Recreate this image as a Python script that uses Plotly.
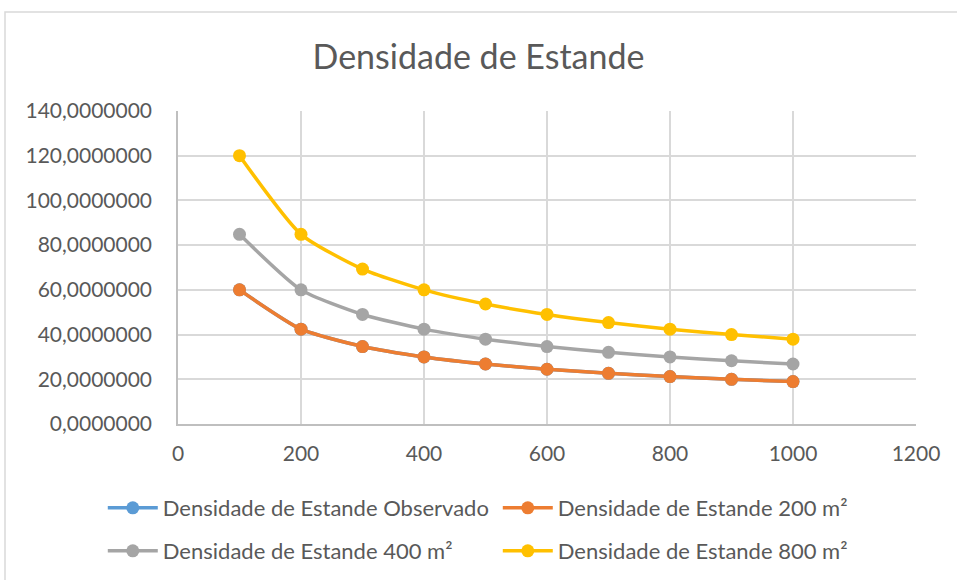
import plotly.graph_objects as go

# Área por planta (x) e densidades de estande para cada parcela
area = [100, 200, 300, 400, 500, 600, 700, 800, 900, 1000]
dens_observado = [60.0, 42.43, 34.64, 30.0, 26.83, 24.49, 22.68, 21.21, 20.0, 18.97]
dens_200 = [60.0, 42.43, 34.64, 30.0, 26.83, 24.49, 22.68, 21.21, 20.0, 18.97]
dens_400 = [84.85, 60.0, 48.99, 42.43, 37.95, 34.64, 32.07, 30.0, 28.28, 26.83]
dens_800 = [120.0, 84.85, 69.28, 60.0, 53.67, 48.99, 45.36, 42.43, 40.0, 37.95]

series = [
    ("Densidade de Estande Observado", dens_observado, "#5B9BD5", "legend"),
    ("Densidade de Estande 200 m²", dens_200, "#ED7D31", "legend"),
    ("Densidade de Estande 400 m²", dens_400, "#A5A5A5", "legend2"),
    ("Densidade de Estande 800 m²", dens_800, "#FFC000", "legend2"),
]

FONT = "Lato"
TXT = "#595959"

# plot area in pixels
PL, PR, PT, PB = 178, 916, 111, 424
PW, PH = PR - PL, PB - PT

fig = go.Figure()
for name, vals, color, leg in series:
    fig.add_trace(go.Scatter(
        x=area, y=vals, name=name, mode="lines+markers", legend=leg,
        line=dict(color=color, width=3.5, shape="spline", smoothing=0.6),
        marker=dict(color=color, size=13),
    ))

legend_style = dict(orientation="h", x=(105 - PL) / PW - 0.003, xanchor="left",
                    yanchor="middle",
                    entrywidth=330, entrywidthmode="pixels", itemwidth=50,
                    font=dict(family=FONT, size=22, color=TXT),
                    bgcolor="rgba(0,0,0,0)")

fig.update_layout(
    width=957, height=580,
    paper_bgcolor="white", plot_bgcolor="white",
    margin=dict(l=PL, r=957 - PR, t=PT, b=580 - PB, autoexpand=False),
    separators=",.",
    title=dict(text="Densidade de Estande", x=0.5, xanchor="center",
               y=1 - 57 / 580, yanchor="middle",
               font=dict(family=FONT, size=34, color=TXT)),
    font=dict(family=FONT, color=TXT, size=21),
    xaxis=dict(range=[0, 1200], dtick=200, tick0=0, showgrid=True,
               gridcolor="#D9D9D9", gridwidth=1.5, zeroline=False,
               showline=True, linecolor="#BFBFBF", linewidth=1.5,
               ticks="", tickfont=dict(size=21, color=TXT), ticklabelstandoff=10),
    yaxis=dict(range=[0, 140], dtick=20, tick0=0, showgrid=True,
               gridcolor="#D9D9D9", gridwidth=1.5, zeroline=False,
               showline=True, linecolor="#BFBFBF", linewidth=1.5,
               ticks="", tickformat=".7f",
               tickfont=dict(size=21, color=TXT), ticklabelstandoff=20),
    legend=dict(legend_style, y=(PB - 508) / PH),
    legend2=dict(legend_style, y=(PB - 551) / PH),
    shapes=[dict(type="rect", xref="paper", yref="paper",
                 x0=(5 - PL) / PW, x1=(965 - PL) / PW,
                 y0=(PB - 590) / PH, y1=(PB - 12) / PH,
                 line=dict(color="#D9D9D9", width=1.5), layer="below")],
)

fig.write_html("out.html")
